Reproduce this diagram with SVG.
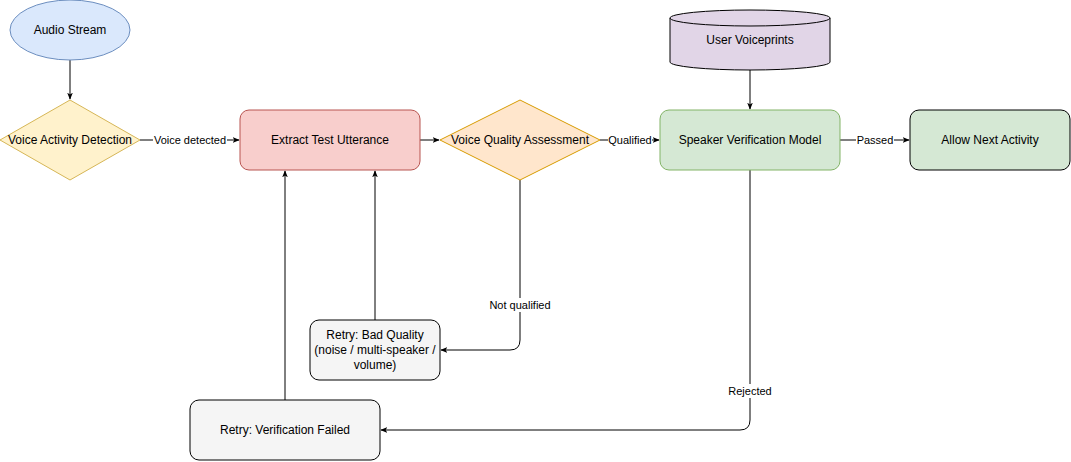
<svg xmlns="http://www.w3.org/2000/svg" width="1071" height="462" viewBox="0 0 1071 462">
<style>
text{font-family:"Liberation Sans",Arial,sans-serif;font-size:12px;fill:#000;text-anchor:middle;dominant-baseline:central}
.lbl{font-size:11px}
.c{fill:none;stroke:#000;stroke-width:1;marker-end:url(#a)}
.lb{fill:#fff}
</style>
<defs><marker id="a" viewBox="0 0 10 10" refX="9" refY="5" markerWidth="7" markerHeight="7" orient="auto"><path d="M0,1 L10,5 L0,9 L2.5,5 Z" fill="#000"/></marker></defs>
<rect width="1071" height="462" fill="#fff"/>
<g id="connectors">
<path class="c" d="M70,60 V99"/>
<path class="c" d="M140,140 H239"/>
<rect class="lb" x="153" y="133" width="74" height="14"/><text class="lbl" x="190" y="140">Voice detected</text>
<path class="c" d="M420,140 H439"/>
<path class="c" d="M600,140 H659"/>
<rect class="lb" x="608" y="133" width="44" height="14"/><text class="lbl" x="630" y="140">Qualified</text>
<path class="c" d="M840,140 H909"/>
<rect class="lb" x="856" y="133" width="38" height="14"/><text class="lbl" x="875" y="140">Passed</text>
<path class="c" d="M750,70 V109"/>
<path class="c" d="M520,180 V340 Q520,350 510,350 H441"/>
<rect class="lb" x="487" y="298" width="66" height="14"/><text class="lbl" x="520" y="305">Not qualified</text>
<path class="c" d="M375,320 V171"/>
<path class="c" d="M750,170 V420 Q750,430 740,430 H381"/>
<rect class="lb" x="726" y="384" width="48" height="14"/><text class="lbl" x="750" y="391">Rejected</text>
<path class="c" d="M285,400 V171"/>
</g>
<g id="audio"><ellipse cx="70" cy="30" rx="60" ry="30" fill="#dae8fc" stroke="#6c8ebf"/><text x="70" y="30">Audio Stream</text></g>
<g id="vad"><path d="M70,100 L140,140 L70,180 L0,140 Z" fill="#fff2cc" stroke="#d6b656"/><text x="70" y="140">Voice Activity Detection</text></g>
<g id="extract"><rect x="240" y="110" width="180" height="60" rx="9" fill="#f8cecc" stroke="#b85450"/><text x="330" y="140">Extract Test Utterance</text></g>
<g id="vqa"><path d="M520,100 L600,140 L520,180 L440,140 Z" fill="#ffe6cc" stroke="#d79b00"/><text x="520" y="140">Voice Quality Assessment</text></g>
<g id="svm"><rect x="660" y="110" width="180" height="60" rx="9" fill="#d5e8d4" stroke="#82b366"/><text x="750" y="140">Speaker Verification Model</text></g>
<g id="allow"><rect x="910" y="110" width="160" height="60" rx="9" fill="#d5e8d4" stroke="#000"/><text x="990" y="140">Allow Next Activity</text></g>
<g id="voiceprints"><path d="M670,18 V62 A80,8 0 0 0 830,62 V18 A80,8 0 0 0 670,18 Z" fill="#e1d5e7" stroke="#000"/><path d="M670,18 A80,8 0 0 0 830,18" fill="none" stroke="#000"/><text x="750" y="40">User Voiceprints</text></g>
<g id="retryq"><rect x="310" y="320" width="130" height="60" rx="9" fill="#f5f5f5" stroke="#000"/><text x="375" y="335">Retry: Bad Quality</text><text x="375" y="350">(noise / multi-speaker /</text><text x="375" y="365">volume)</text></g>
<g id="retryv"><rect x="190" y="400" width="190" height="60" rx="9" fill="#f5f5f5" stroke="#000"/><text x="285" y="430">Retry: Verification Failed</text></g>
</svg>
